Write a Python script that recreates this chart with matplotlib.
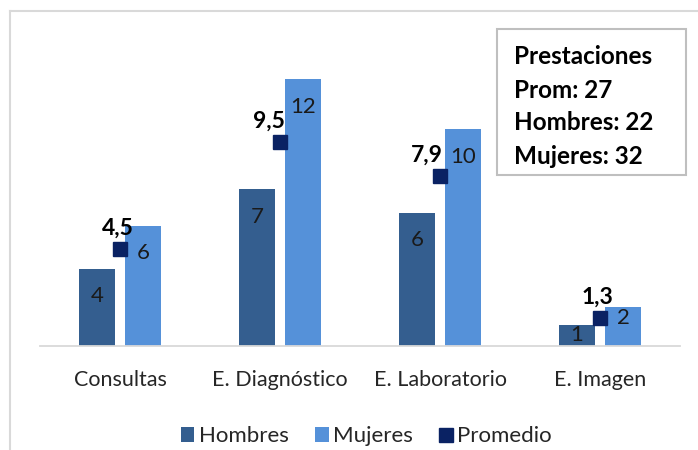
import matplotlib.pyplot as plt
import numpy as np
from matplotlib.patches import Rectangle
from matplotlib.lines import Line2D

categorias = ["Consultas", "E. Diagnóstico", "E. Laboratorio", "E. Imagen"]
hombres = [3.6, 7.3, 6.2, 1.0]
mujeres = [5.6, 12.4, 10.1, 1.8]
promedio = [4.5, 9.5, 7.9, 1.3]
etiq_hombres = ["4", "7", "6", "1"]
etiq_mujeres = ["6", "12", "10", "2"]
etiq_promedio = ["4,5", "9,5", "7,9", "1,3"]
resumen = ["Prestaciones", "Prom: 27", "Hombres: 22", "Mujeres: 32"]

c_hom = "#345E8F"
c_muj = "#5591D9"
c_prom = "#0A2263"

plt.rcParams['font.family'] = ['Lato', 'DejaVu Sans']

fig = plt.figure(figsize=(6.98, 4.5), dpi=100)
ax = fig.add_axes([40 / 698, 104 / 450, 640 / 698, 301 / 450])

x = np.arange(len(categorias))
w = 0.22
off = 0.144
b1 = ax.bar(x - off, hombres, w, color=c_hom, label="Hombres")
b2 = ax.bar(x + off, mujeres, w, color=c_muj, label="Mujeres")
pm, = ax.plot(x, promedio, linestyle="none", marker="s", markersize=10.5,
              color=c_prom, label="Promedio")

ax.set_xlim(-0.5, len(categorias) - 0.5)
ax.set_ylim(0, 14)


def etiquetas(barras, textos):
    for r, t in zip(barras, textos):
        # inside-end labels, kept above the baseline on short bars
        dy = -20 if r.get_height() > 2.5 else -7.5
        ax.annotate(t, (r.get_x() + r.get_width() / 2, r.get_height()),
                    xytext=(0, dy), textcoords="offset points", ha="center",
                    va="center", fontsize=16, color="#1a1a1a")


etiquetas(b1, etiq_hombres)
etiquetas(b2, etiq_mujeres)

# manual nudges like the original labels
nudge = [-1.5, -8, -9.5, -1.5]
for xi, v, t, dx in zip(x, promedio, etiq_promedio, nudge):
    ax.annotate(t, (xi, v), xytext=(dx, 15), textcoords="offset points",
                ha="center", va="center", fontsize=16.5, fontweight="bold", color="black")

ax.set_yticks([])
ax.set_xticks(x, categorias, fontsize=15.5, color="#262626")
ax.tick_params(axis="x", length=0, pad=17)
for s in ["top", "right", "left"]:
    ax.spines[s].set_visible(False)
ax.spines["bottom"].set_color("#D9D9D9")
ax.spines["bottom"].set_linewidth(1.3)

leg = ax.legend(handles=[b1, b2, pm], loc="center", bbox_to_anchor=(0.51, -0.3),
                ncols=3, frameon=False, fontsize=16, handlelength=0.6,
                handleheight=0.6, columnspacing=1.2, handletextpad=0.2)
for txt in leg.get_texts():
    txt.set_color("#262626")

# text box with totals
fig.patches.append(Rectangle((497 / 698, 1 - 175 / 450), 189 / 698, 146 / 450,
                             transform=fig.transFigure, fill=False,
                             edgecolor="#BFBFBF", linewidth=1.5))
for i, line in enumerate(resumen):
    fig.text(514 / 698, 1 - (57 + 33 * i) / 450, line, fontsize=17.5,
             fontweight="bold", va="center", ha="left", color="black")

# outer frame (only top and left visible)
fig.lines.append(Line2D([10 / 698, 10 / 698], [0, 1 - 11 / 450],
                        transform=fig.transFigure, color="#D9D9D9", linewidth=1.5))
fig.lines.append(Line2D([10 / 698, 1], [1 - 11 / 450, 1 - 11 / 450],
                        transform=fig.transFigure, color="#D9D9D9", linewidth=1.5))

fig.savefig("out.png", dpi=100)
